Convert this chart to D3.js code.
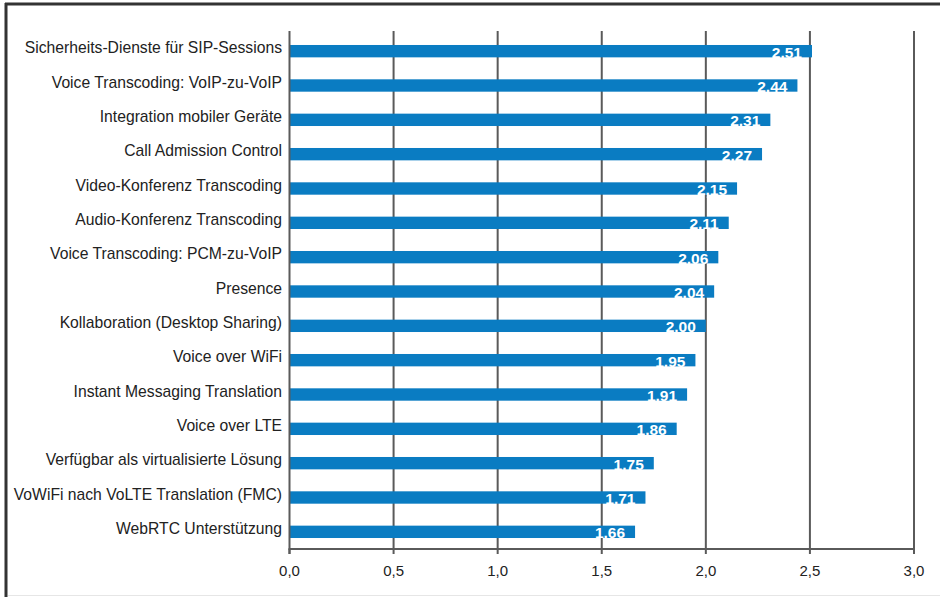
<!DOCTYPE html>
<html>
<head>
<meta charset="utf-8">
<script src="https://cdn.jsdelivr.net/npm/d3@7"></script>
<style>
    body { margin: 0; background: #fff; }
    svg { display: block; font-family: "Liberation Sans", Arial, sans-serif; }
    .cat-label { font-size: 15.7px; fill: #222; }
    .tick-label { font-size: 15px; fill: #222; }
    .value-label { font-size: 15.5px; font-weight: bold; fill: #fff; }
</style>
</head>
<body>
<div id="chart"></div>
<script>

// chart data
var categories = [
    "Sicherheits-Dienste für SIP-Sessions",
    "Voice Transcoding: VoIP-zu-VoIP",
    "Integration mobiler Geräte",
    "Call Admission Control",
    "Video-Konferenz Transcoding",
    "Audio-Konferenz Transcoding",
    "Voice Transcoding: PCM-zu-VoIP",
    "Presence",
    "Kollaboration (Desktop Sharing)",
    "Voice over WiFi",
    "Instant Messaging Translation",
    "Voice over LTE",
    "Verfügbar als virtualisierte Lösung",
    "VoWiFi nach VoLTE Translation (FMC)",
    "WebRTC Unterstützung"
];
var values = [2.51, 2.44, 2.31, 2.27, 2.15, 2.11, 2.06, 2.04, 2.00, 1.95, 1.91, 1.86, 1.75, 1.71, 1.66];
var xTicks = [0, 0.5, 1.0, 1.5, 2.0, 2.5, 3.0];

var width = 940, height = 597;
var plotLeft = 289.5, plotRight = 914, plotTop = 34, plotBottom = 549;

var data = categories.map(function(c, i) { return { name: c, value: values[i] }; });

var svg = d3.select("#chart").append("svg")
    .attr("width", width)
    .attr("height", height);

// frame
svg.append("rect").attr("x", 0).attr("y", 0).attr("width", width).attr("height", height).attr("fill", "#fff");
svg.append("line")
    .attr("x1", 5).attr("x2", width).attr("y1", 4).attr("y2", 4)
    .style("stroke", "#333").style("stroke-width", 3);
svg.append("line")
    .attr("x1", 6).attr("x2", 6).attr("y1", 3).attr("y2", height)
    .style("stroke", "#333").style("stroke-width", 3);
svg.append("line")
    .attr("x1", 8).attr("x2", width).attr("y1", 595.5).attr("y2", 595.5)
    .style("stroke", "#e6e6e6").style("stroke-width", 1);

var x = d3.scaleLinear().domain([0, 3]).range([plotLeft, plotRight]);
var y = d3.scaleBand().domain(categories).range([plotTop, plotBottom])
    .paddingInner(0.64).paddingOuter(0.32);

// vertical grid lines
svg.selectAll(".grid")
    .data(xTicks.slice(1))
    .enter().append("line")
    .attr("class", "grid")
    .attr("x1", function(d) { return x(d); })
    .attr("x2", function(d) { return x(d); })
    .attr("y1", 31)
    .attr("y2", plotBottom)
    .style("stroke", "#5a5a5a")
    .style("stroke-width", 2);

// bars
svg.selectAll(".bar")
    .data(data)
    .enter().append("rect")
    .attr("class", "bar")
    .attr("x", x(0))
    .attr("y", function(d) { return y(d.name); })
    .attr("width", function(d) { return x(d.value) - x(0); })
    .attr("height", y.bandwidth())
    .style("fill", "#0a7cc2");

// value labels
svg.selectAll(".value-label")
    .data(data)
    .enter().append("text")
    .attr("class", "value-label")
    .attr("x", function(d) { return x(d.value) - 10; })
    .attr("y", function(d) { return y(d.name) + y.bandwidth() / 2 + 6.5; })
    .style("text-anchor", "end")
    .text(function(d) { return d.value.toFixed(2).replace(".", ","); });

// y axis line + x axis line
svg.append("line")
    .attr("x1", x(0)).attr("x2", x(0)).attr("y1", 31).attr("y2", plotBottom + 5)
    .style("stroke", "#5a5a5a").style("stroke-width", 2);
svg.append("line")
    .attr("x1", x(0) - 1).attr("x2", x(3) + 1).attr("y1", plotBottom).attr("y2", plotBottom)
    .style("stroke", "#5a5a5a").style("stroke-width", 2);

// x ticks
svg.selectAll(".tick-mark")
    .data(xTicks)
    .enter().append("line")
    .attr("class", "tick-mark")
    .attr("x1", function(d) { return x(d); })
    .attr("x2", function(d) { return x(d); })
    .attr("y1", plotBottom)
    .attr("y2", plotBottom + 5)
    .style("stroke", "#5a5a5a")
    .style("stroke-width", 2);

svg.selectAll(".tick-label")
    .data(xTicks)
    .enter().append("text")
    .attr("class", "tick-label")
    .attr("x", function(d) { return x(d); })
    .attr("y", 576)
    .style("text-anchor", "middle")
    .text(function(d) { return d.toFixed(1).replace(".", ","); });

// category labels
svg.selectAll(".cat-label")
    .data(data)
    .enter().append("text")
    .attr("class", "cat-label")
    .attr("x", 282)
    .attr("y", function(d) { return y(d.name) + y.bandwidth() / 2 + 2; })
    .style("text-anchor", "end")
    .text(function(d) { return d.name; });

</script>
</body>
</html>
